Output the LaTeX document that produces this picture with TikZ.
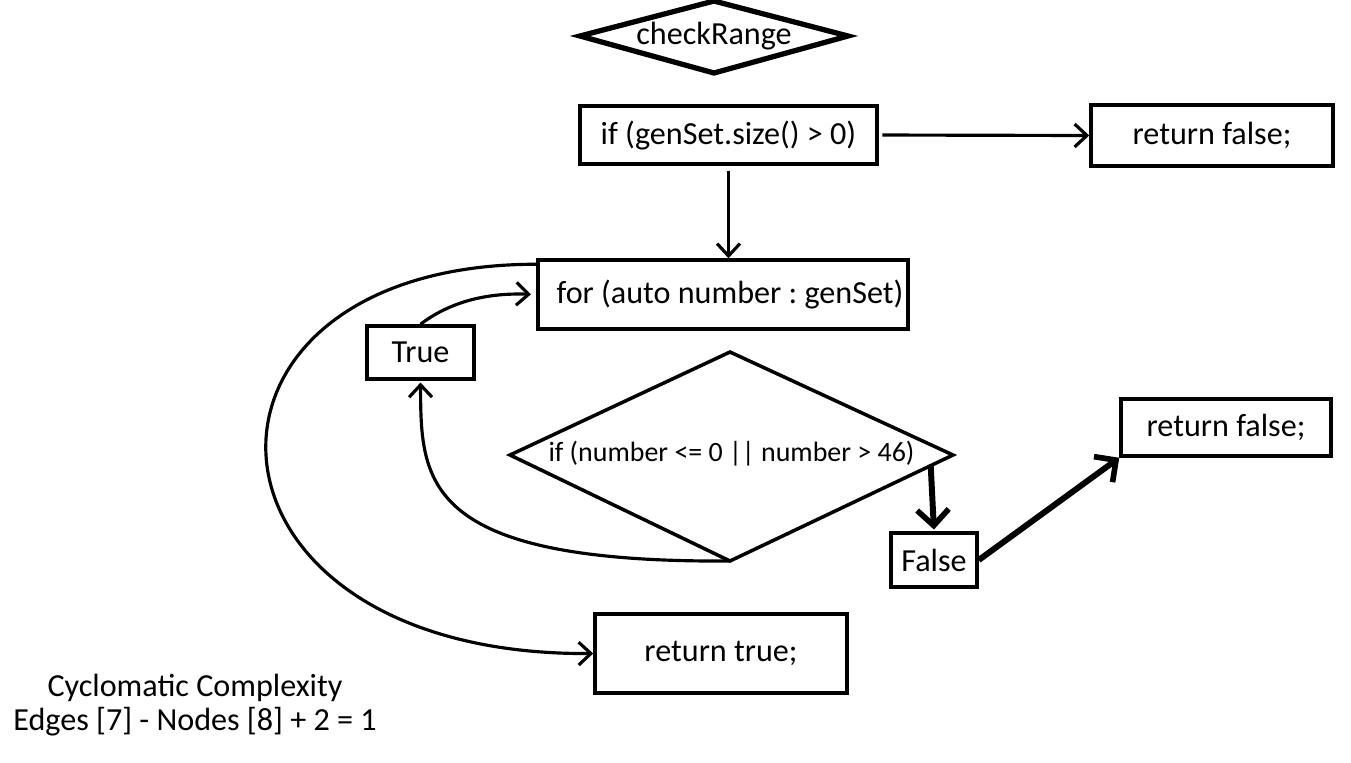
\documentclass[tikz,border=0pt]{standalone}
\usepackage{fontspec}
\setmainfont{Carlito}
\usetikzlibrary{arrows.meta,calc}
\frenchspacing
\tikzset{
  box/.style={draw, line width=2pt, rectangle, inner sep=0pt, font=\fontsize{18.3}{20}\selectfont},
  txt/.style={inner sep=0pt},
  diaedge/.style={line width=2pt, line join=miter},
  arr/.style={line width=1.8pt, -{Straight Barb[length=7pt,width=13pt,line width=1.8pt]}},
  thickarr/.style={line width=3.4pt, -{Straight Barb[length=9pt,width=18pt,line width=3.2pt]}},
  lbl/.style={inner sep=0pt, align=center, font=\fontsize{18.3}{19.5}\selectfont}
}
\begin{document}
\begin{tikzpicture}[x=0.02cm,y=-0.02cm]
\useasboundingbox (0,0) rectangle (1351,762);
% start diamond
\node[txt, font=\fontsize{18.3}{20}\selectfont] (start) at (714,36) {checkRange};
\draw[diaedge, line width=3pt] ($(start.center)+(-134,0)$) -- ($(start.center)+(0,-35)$) -- ($(start.center)+(134,0)$) -- ($(start.center)+(0,37)$) -- cycle;
% boxes
\node[box, minimum width=297*0.02cm, minimum height=58*0.02cm] (ifb) at (728.5,135) {if (genSet.size() > 0)};
\node[box, minimum width=242*0.02cm, minimum height=61*0.02cm] (rf1) at (1212,135.5) {return false;};
\node[box, minimum width=370*0.02cm, minimum height=69*0.02cm] (forb) at (723,294.5) {\hspace*{8pt}for (auto number : genSet)};
\node[box, minimum width=107*0.02cm, minimum height=53*0.02cm] (tru) at (420.5,352.5) {True};
% condition diamond
\node[txt, font=\fontsize{15.9}{17}\selectfont] (cond) at (731.5,454) {if (number <= 0 || number > 46)};
\coordinate (condW) at (510,455);
\coordinate (condN) at (730,352);
\coordinate (condE) at (953,455);
\coordinate (condS) at (730,561);
\draw[diaedge] (condW) -- (condN) -- (condE) -- (condS) -- cycle;
\node[box, minimum width=86*0.02cm, minimum height=54*0.02cm] (fls) at (934,560) {False};
\node[box, minimum width=210*0.02cm, minimum height=57*0.02cm] (rf2) at (1226,427.5) {return false;};
\node[box, minimum width=252*0.02cm, minimum height=79*0.02cm] (rtr) at (721,653.5) {return true;};
\node[lbl] (cc) at (195,705) {Cyclomatic Complexity\\Edges [7] - Nodes [8] + 2 = 1};
% connectors
\draw[arr, shorten <=2pt] (ifb.east) -- (rf1.west);
\draw[arr, shorten <=3pt] (ifb.south) -- (ifb.south |- forb.north);
\coordinate (forlt) at ($(forb.north west)+(0,6)$);
\draw[arr] (forlt) .. controls (160,264) and (175,656) .. (rtr.west);
\draw[arr, shorten >=3pt] (tru.north) .. controls (455,298) and (495,293) .. (forb.west);
\draw[arr, shorten >=1pt] (condS) .. controls (420,563) and (421,480) .. (tru.south);
\coordinate (cfrom) at ($(condE)!0.1!(condS)$);
\draw[thickarr, shorten >=1pt] (cfrom) -- (fls.north);
\draw[thickarr] (fls.east) -- (rf2.south west);
\end{tikzpicture}
\end{document}
